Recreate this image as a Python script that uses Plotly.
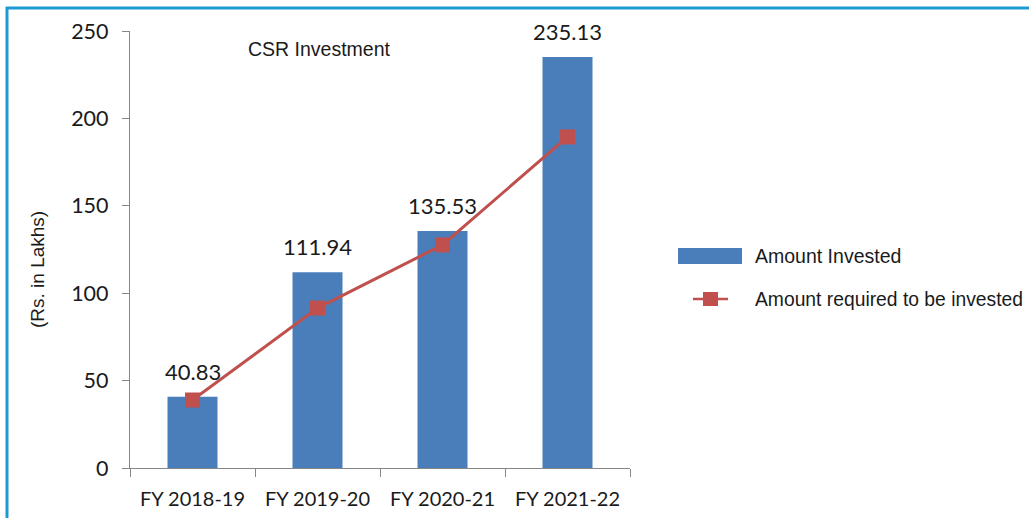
import plotly.graph_objects as go

# ---- data ----
categories = ["FY 2018-19", "FY 2019-20", "FY 2020-21", "FY 2021-22"]
amount_invested = [40.83, 111.94, 135.53, 235.13]
amount_required = [38.9, 91.5, 127.6, 189.4]
series_names = ["Amount Invested", "Amount required to be invested"]
y_ticks = [0, 50, 100, 150, 200, 250]
chart_title = "CSR Investment"
y_title = "(Rs. in Lakhs)"

BAR_COLOR = "#4A7EBB"
LINE_COLOR = "#C0504D"
AXIS_COLOR = "#868686"
FRAME_COLOR = "#1E9AD3"
NUM_FONT = "Lato"
TXT_FONT = "Liberation Sans"

W, H = 1029, 518
# reference-pixel geometry of the plot area
PL, PR, PT, PB = 130, 630, 31, 468
ML, MT = PL, PT
MR = W - PR
MB = H - PB
PW, PH = PR - PL, PB - PT


def px_x(p):
    return (p - PL) / PW


def px_y(p):
    return (PB - p) / PH


fig = go.Figure()
fig.add_trace(go.Bar(
    x=categories, y=amount_invested, name=series_names[0],
    marker=dict(color=BAR_COLOR, line=dict(width=0)), width=0.4,
    showlegend=False,
))
fig.add_trace(go.Scatter(
    x=categories, y=amount_required, name=series_names[1], mode="lines+markers",
    line=dict(color=LINE_COLOR, width=3),
    marker=dict(symbol="square", size=15, color=LINE_COLOR),
    showlegend=False,
))

annotations = []
for c, v in zip(categories, amount_invested):
    annotations.append(dict(
        x=c, y=v, xref="x", yref="y", text=f"{v:.2f}", showarrow=False,
        yanchor="bottom", yshift=10,
        font=dict(family=NUM_FONT, size=22, color="#1a1a1a"),
    ))

annotations.append(dict(
    x=px_x(319), y=px_y(49), xref="paper", yref="paper", text=chart_title,
    showarrow=False, xanchor="center", yanchor="middle",
    font=dict(family=TXT_FONT, size=19.5, color="#1a1a1a"),
))
annotations.append(dict(
    x=px_x(37), y=px_y(270), xref="paper", yref="paper", text=y_title,
    showarrow=False, textangle=-90, xanchor="center", yanchor="middle",
    font=dict(family=TXT_FONT, size=19, color="#1a1a1a"),
))
# legend text
annotations.append(dict(
    x=px_x(753), y=px_y(256), xref="paper", yref="paper", text=series_names[0],
    showarrow=False, xanchor="left", yanchor="middle",
    font=dict(family=TXT_FONT, size=19.5, color="#1a1a1a"),
))
annotations.append(dict(
    x=px_x(753), y=px_y(299), xref="paper", yref="paper", text=series_names[1],
    showarrow=False, xanchor="left", yanchor="middle",
    font=dict(family=TXT_FONT, size=19.3, color="#1a1a1a"),
))

shapes = [
    # legend symbols
    dict(type="rect", xref="paper", yref="paper",
         x0=px_x(678), x1=px_x(742), y0=px_y(264), y1=px_y(248),
         fillcolor=BAR_COLOR, line=dict(width=0)),
    dict(type="line", xref="paper", yref="paper",
         x0=px_x(693), x1=px_x(728), y0=px_y(299), y1=px_y(299),
         line=dict(color=LINE_COLOR, width=2.5)),
    dict(type="rect", xref="paper", yref="paper",
         x0=px_x(703), x1=px_x(718), y0=px_y(306), y1=px_y(292),
         fillcolor=LINE_COLOR, line=dict(width=0)),
    # frame
    dict(type="line", xref="paper", yref="paper",
         x0=px_x(6), x1=px_x(1040), y0=px_y(8), y1=px_y(8),
         line=dict(color=FRAME_COLOR, width=3)),
    dict(type="line", xref="paper", yref="paper",
         x0=px_x(7), x1=px_x(7), y0=px_y(7), y1=px_y(530),
         line=dict(color=FRAME_COLOR, width=3)),
]

fig.update_layout(
    width=W, height=H,
    margin=dict(l=ML, r=MR, t=MT, b=MB, pad=0, autoexpand=False),
    plot_bgcolor="white", paper_bgcolor="white",
    showlegend=False,
    annotations=annotations, shapes=shapes,
)
fig.update_xaxes(
    type="category", showgrid=False, showline=True, linecolor=AXIS_COLOR, linewidth=1.3,
    ticks="outside", tickson="boundaries", ticklen=8, tickcolor=AXIS_COLOR, tickwidth=1.3,
    tickfont=dict(family=NUM_FONT, size=20, color="#1a1a1a"),
    ticklabelstandoff=13, automargin=False,
)
fig.update_yaxes(
    range=[0, 250], tickvals=y_ticks, showgrid=False, zeroline=False,
    showline=True, linecolor=AXIS_COLOR, linewidth=1.3,
    ticks="outside", ticklen=7, tickcolor=AXIS_COLOR, tickwidth=1.3,
    tickfont=dict(family=NUM_FONT, size=21.5, color="#1a1a1a"),
    ticklabelstandoff=9, automargin=False,
)

fig.write_html(
    "out.html",
    config={"displayModeBar": False},
    post_script="document.body.style.margin='0';document.body.style.overflow='hidden';",
)
